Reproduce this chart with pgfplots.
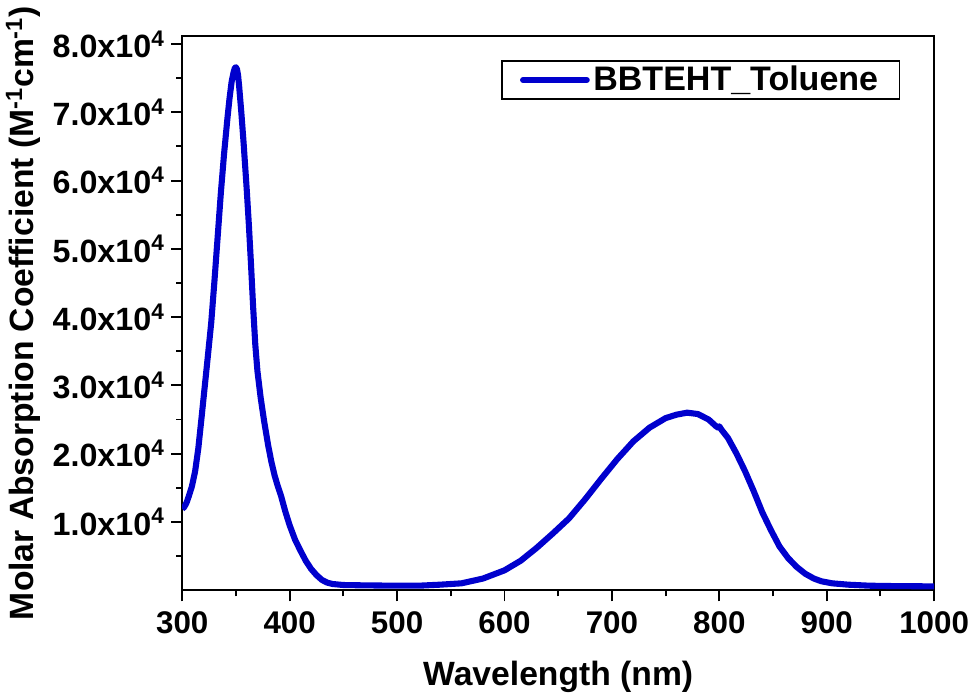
\documentclass[border=0pt]{standalone}
\usepackage{pgfplots}
\pgfplotsset{compat=1.18}
\usepackage{fontspec}
\setmainfont{Liberation Sans}
\definecolor{specblue}{RGB}{0,0,205}

\begin{document}
\begin{tikzpicture}
\begin{axis}[
    width=14.76cm, height=10.88cm,
    scale only axis,
    xmin=300, xmax=1000,
    ymin=0, ymax=81200,
    xtick={300,400,...,1000},
    minor xtick={350,450,...,950},
    ytick={10000,20000,...,80000},
    minor ytick={5000,15000,...,75000},
    yticklabels={1.0x10\textsuperscript{4},2.0x10\textsuperscript{4},3.0x10\textsuperscript{4},4.0x10\textsuperscript{4},5.0x10\textsuperscript{4},6.0x10\textsuperscript{4},7.0x10\textsuperscript{4},8.0x10\textsuperscript{4}},
    scaled y ticks=false,
    /pgf/number format/assume math mode=true,
    /pgf/number format/1000 sep={},
    tick align=outside,
    xtick pos=bottom, ytick pos=left,
    major tick length=0.22cm,
    minor tick length=0.12cm,
    every tick/.style={black, line width=1.1pt},
    axis line style={line width=1.1pt},
    xticklabel style={font=\fontsize{17.5}{20}\selectfont\bfseries, yshift=-2pt},
    yticklabel style={font=\fontsize{18}{21}\selectfont\bfseries},
    xlabel={\textbf{Wavelength (nm)}},
    ylabel={\textbf{Molar Absorption Coefficient (M\textsuperscript{-1}cm\textsuperscript{-1})}},
    label style={font=\fontsize{18.8}{22}\selectfont},
    xlabel style={yshift=-0.3cm},
    legend style={at={(0.955,0.956)}, anchor=north east, draw=black, line width=0.8pt,
        font=\fontsize{19}{22}\selectfont\bfseries, inner xsep=10pt, inner ysep=1pt},
    legend cell align=left,
    legend image code/.code={\draw[#1, line width=3.4pt, line cap=round] (0cm,0cm) -- (1.25cm,0cm);},
]
\addplot[color=specblue, line width=3.4pt, line join=round] coordinates {
(300,11900) (302,12200) (304,12800) (306,13700) (309,15200) (312,17400) (315,20800)
(318,25300) (321,29900) (324,34500) (327,39200) (330,45300) (333,51800)
(336,58300) (339,64000) (342,69000) (344,72000) (346,74500) (348,76000) (349,76500)
(350,76600) (351,76300) (352,75400) (353,73800) (355,70000) (357,65800) (360,58800)
(362,53600) (364,47800) (366,41500) (368,36000) (370,32100) (373,28200) (376,25000)
(380,21200) (383,18800) (386,16800) (389,15200) (392,13800) (396,11500)
(400,9500) (405,7400) (410,5800) (415,4300) (420,3100) (425,2200)
(430,1500) (435,1100) (440,900) (450,750) (470,700) (500,650)
(520,650) (540,800) (560,1000) (580,1700) (600,2900) (615,4300)
(630,6200) (645,8300) (660,10500) (675,13300) (690,16300) (705,19200)
(720,21800) (735,23800) (750,25200) (760,25700) (770,26000) (780,25800)
(790,25000) (797,24000) (799,23800) (800,24000) (802,23500) (808,22300)
(816,20000) (824,17400) (832,14500) (840,11400) (848,8800) (856,6400)
(864,4700) (872,3400) (880,2400) (888,1700) (895,1300) (905,1000)
(920,800) (940,650) (960,600) (1000,550)
};
\addlegendentry{BBTEHT\_Toluene}
\end{axis}
\end{tikzpicture}
\end{document}
